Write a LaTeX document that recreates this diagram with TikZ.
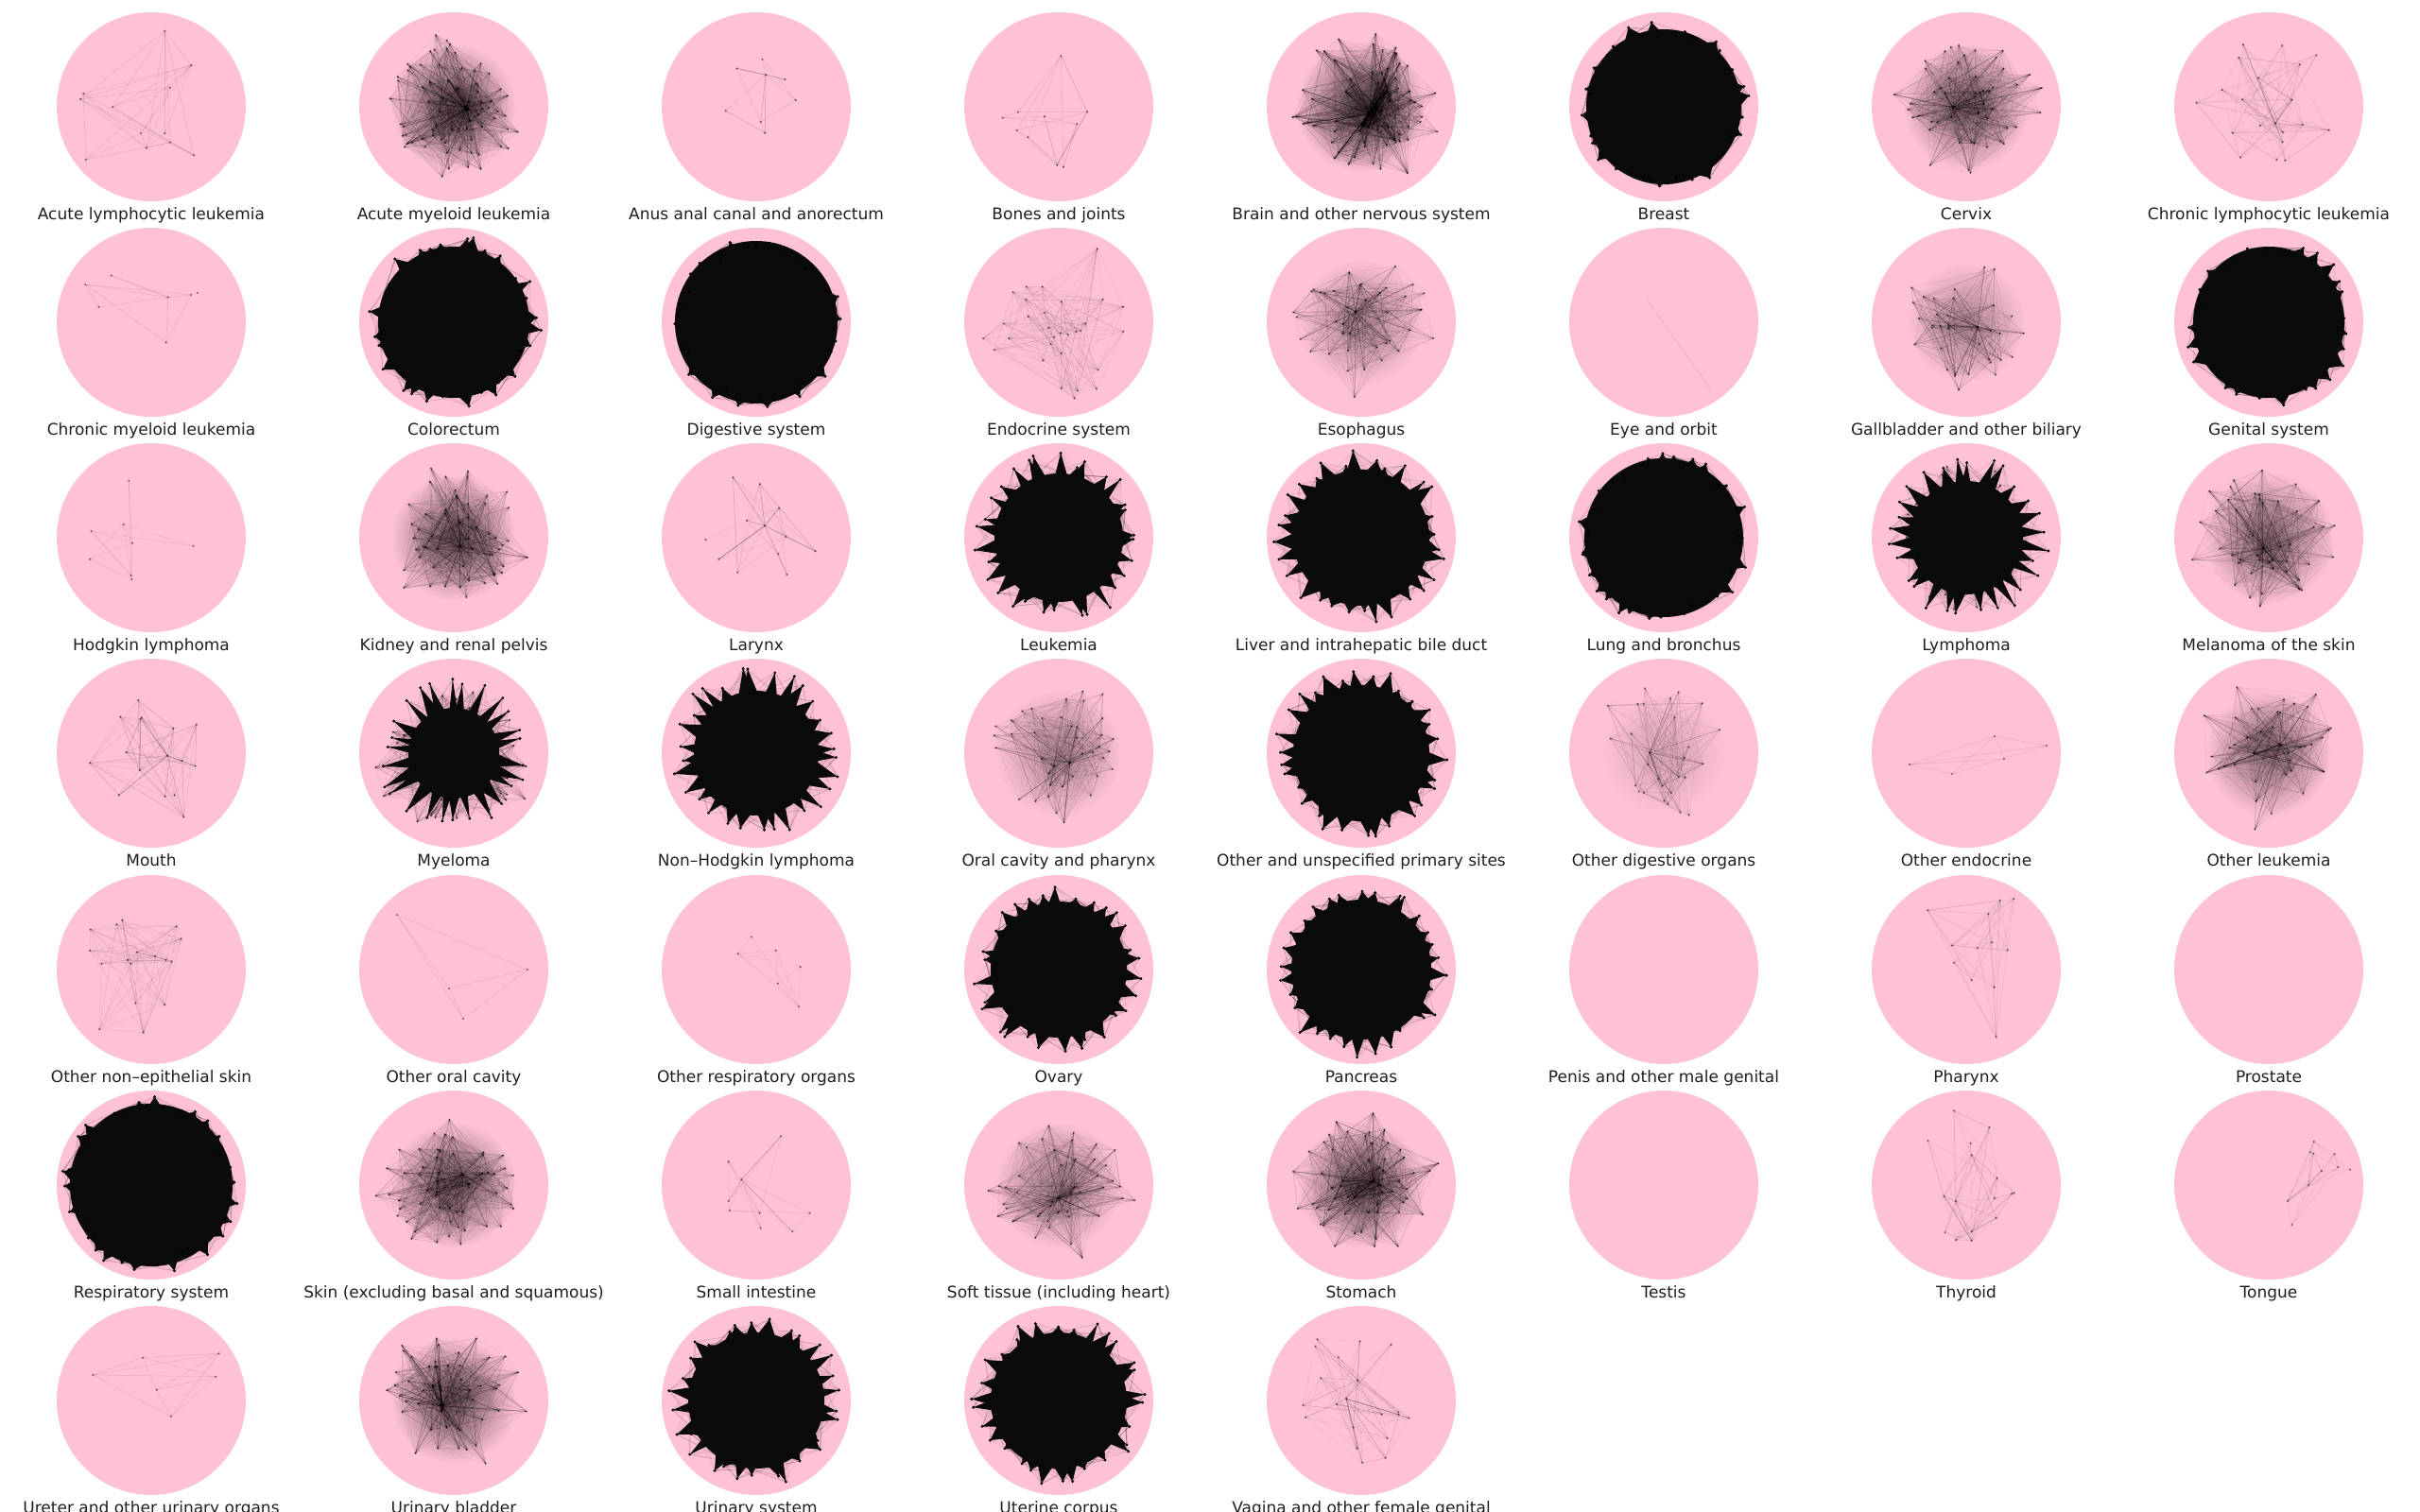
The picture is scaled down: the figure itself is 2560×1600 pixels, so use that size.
\documentclass[tikz,border=0pt]{standalone}
\usepackage{fontspec}
\setmainfont{DejaVu Sans}
\definecolor{pinkc}{RGB}{254,193,214}
\tikzset{
  pinkdisc/.style={circle, fill=pinkc, minimum size=200pt, inner sep=0pt, draw=none},
  celllabel/.style={font=\fontsize{17}{20}\selectfont, text=black!88, anchor=base, inner sep=0pt},
  netedges/.style={line width=0.5pt, draw=black},
  netdot/.style={fill=black, fill opacity=0.5},
}
% one connector between two named coordinates (low level, to save memory)
\newcommand\edgeln[2]{\pgfpathmoveto{\pgfpointanchor{#1}{center}}\pgfpathlineto{\pgfpointanchor{#2}{center}}\pgfusepath{stroke}}
% random network: id, cx, cy, n, m, opacity, spread, seed, mass
\newcommand\rnet[9]{%
  \pgfmathsetseed{#8}%
  \begin{scope}[shift={(#2,#3)}]
    \ifdim #9pt>0pt
      \pgfmathsetmacro\mrad{#7*78}%
      \shade[inner color=black, outer color=pinkc, opacity=#9] (0,0) circle (\mrad pt);
    \fi
    \foreach \i in {1,...,#4}{%
      \pgfmathsetmacro\nang{rnd*360}%
      \pgfmathsetmacro\nrad{#7*100*(0.12+0.88*(\i/#4)^0.7)*(0.75+0.25*rnd)}%
      \coordinate (#1-\i) at (\nang:\nrad);
    }
    \begin{scope}[netedges, draw opacity=#6]
      \foreach \k in {1,...,#5}{%
        \pgfmathtruncatemacro\ea{min(#4,1+floor(#4*rnd^2.2))}%
        \pgfmathtruncatemacro\eb{min(#4,1+floor(#4*rnd))}%
        \edgeln{#1-\ea}{#1-\eb}%
      }
    \end{scope}
    \foreach \i in {1,...,#4}{\fill[netdot] (#1-\i) circle (1.2pt);}
  \end{scope}}
% explicit network: id, cx, cy, coords x/y, prob, opacity, seed
\newcommand\xnet[7]{%
  \pgfmathsetseed{#7}%
  \begin{scope}[shift={(#2,#3)}]
    \foreach \px/\py [count=\i] in {#4}{\coordinate (#1-\i) at (\px,\py); \xdef\xnetn{\i}}
    \begin{scope}[netedges, draw opacity=#6]
      \foreach \i in {1,...,\xnetn}{%
        \foreach \j in {\i,...,\xnetn}{%
          \pgfmathsetmacro\xr{rnd}%
          \ifdim\xr pt<#5pt\relax\ifnum\i<\j\relax \edgeln{#1-\i}{#1-\j}\fi\fi
        }}
    \end{scope}
    \foreach \i in {1,...,\xnetn}{\fill[netdot] (#1-\i) circle (1.2pt);}
  \end{scope}}
% dense core: id, cx, cy, inner, outer, spikes, seed
\newcommand\core[7]{%
  \pgfmathsetseed{#7}%
  \begin{scope}[shift={(#2,#3)}]
    \foreach \s in {1,...,#6}{%
      \pgfmathsetmacro\cang{\s*360/#6+10*rnd}%
      \expandafter\xdef\csname #1ang\s\endcsname{\cang}%
      \pgfmathsetmacro\crad{#5*(0.82+0.18*rnd)}%
      \coordinate (#1-\s) at (\cang:\crad);
      \begin{scope}[netedges, draw opacity=0.1]
        \foreach \f in {1,...,9}{%
          \pgfmathsetmacro\fa{-\cang+70*(rnd-0.5)}%
          \pgfpathmoveto{\pgfpointanchor{#1-\s}{center}}%
          \pgfpathlineto{\pgfpointpolar{\fa}{#4 pt}}%
          \pgfusepath{stroke}%
        }
      \end{scope}
    }
    \fill[black!96] (0,0) circle (#4pt);
    \pgfmathsetmacro\cw{180/#6}%
    \foreach \s in {1,...,#6}{%
      \edef\cang{\csname #1ang\s\endcsname}%
      \pgfmathsetmacro\cwa{\cw*(0.6+0.9*rnd)}%
      \pgfmathsetmacro\cwb{\cw*(0.6+0.9*rnd)}%
      \fill[black!96] ({\cang-\cwa}:{#4-3}) -- (#1-\s) -- ({\cang+\cwb}:{#4-3}) -- cycle;
    }
    \foreach \s in {1,...,#6}{\fill[black] (#1-\s) circle (1.6pt);}
  \end{scope}}
\newcommand\cell[4]{%
  \node[pinkdisc] (c#1) at (#2,#3) {};
  \node[celllabel] (t#1) at (#2,#3+119) {#4};}
\begin{document}
\begin{tikzpicture}[x=1pt,y=-1pt]
\useasboundingbox[fill=white] (0,0) rectangle (2560,1600);
% ---- row 1
\cell{1}{160}{113}{Acute lymphocytic leukemia}
\xnet{n1}{160}{113}{14.3/-80.3,42.3/-44,20/-20.3,-71.7/-14,-75/-8,-41/0.3,-11/28,14.3/28,20/37.7,-5/43.7,-69.3/56,45/51.3}{0.5}{0.1}{101}
\cell{2}{480}{113}{Acute myeloid leukemia}
\rnet{n2}{480}{113}{75}{1200}{0.08}{0.85}{102}{0.55}
\cell{3}{800}{113}{Anus anal canal and anorectum}
\rnet{n3}{815}{98}{8}{20}{0.1}{0.6}{103}{0}
\cell{4}{1120}{113}{Bones and joints}
\rnet{n4}{1120}{113}{10}{28}{0.1}{0.8}{104}{0}
\cell{5}{1440}{113}{Brain and other nervous system}
\rnet{n5}{1440}{113}{75}{1500}{0.09}{0.88}{105}{0.65}
\cell{6}{1760}{113}{Breast}
\core{n6}{1760}{113}{82}{92}{30}{106}
\cell{7}{2080}{113}{Cervix}
\rnet{n7}{2080}{113}{50}{800}{0.08}{0.85}{107}{0.5}
\cell{8}{2400}{113}{Chronic lymphocytic leukemia}
\rnet{n8}{2400}{113}{20}{120}{0.08}{0.85}{108}{0}
% ---- row 2
\cell{9}{160}{341}{Chronic myeloid leukemia}
\rnet{n9}{160}{330}{7}{16}{0.1}{0.8}{109}{0}
\cell{10}{480}{341}{Colorectum}
\core{n10}{480}{341}{80}{93}{32}{110}
\cell{11}{800}{341}{Digestive system}
\core{n11}{800}{341}{86}{93}{34}{111}
\cell{12}{1120}{341}{Endocrine system}
\xnet{n12}{1120}{341}{40.7/-77.8,-48.3/-31.8,-34.3/-37.5,-17.3/-37.5,-35/-24.2,2.7/-21.8,46.7/-24.2,68.3/-16.2,-15/-10.2,-32.3/-6.2,-58.3/1.5,28.3/1.5,-10.7/5.8,1.7/11.5,10/13.2,18.3/9.8,23.3/9.2,68.3/9.8,-80/17.2,-52.7/17.2,-5/15.8,-8.3/23.2,-68.3/29.2,2.7/33.2,-16.7/40.5,41.7/50.5,2.7/69.8,20/72.5,40/70.5,16.7/80.5}{0.4}{0.08}{112}
\cell{13}{1440}{341}{Esophagus}
\rnet{n13}{1440}{341}{40}{550}{0.08}{0.85}{113}{0.3}
\cell{14}{1760}{341}{Eye and orbit}
\coordinate (n14-1) at (1743,318);
\coordinate (n14-2) at (1809,411);
\draw[netedges, draw opacity=0.12] (n14-1) -- (n14-2);
\cell{15}{2080}{341}{Gallbladder and other biliary}
\rnet{n15}{2080}{341}{35}{420}{0.08}{0.8}{115}{0.3}
\cell{16}{2400}{341}{Genital system}
\core{n16}{2400}{341}{80}{92}{30}{116}
% ---- row 3
\cell{17}{160}{569}{Hodgkin lymphoma}
\rnet{n17}{160}{569}{8}{18}{0.09}{0.85}{117}{0}
\cell{18}{480}{569}{Kidney and renal pelvis}
\rnet{n18}{480}{569}{55}{900}{0.08}{0.85}{118}{0.55}
\cell{19}{800}{569}{Larynx}
\rnet{n19}{800}{569}{12}{50}{0.09}{0.7}{119}{0}
\cell{20}{1120}{569}{Leukemia}
\core{n20}{1120}{569}{68}{92}{30}{120}
\cell{21}{1440}{569}{Liver and intrahepatic bile duct}
\core{n21}{1440}{569}{72}{93}{30}{121}
\cell{22}{1760}{569}{Lung and bronchus}
\core{n22}{1760}{569}{84}{93}{34}{122}
\cell{23}{2080}{569}{Lymphoma}
\rnet{n23b}{2080}{569}{50}{700}{0.08}{0.9}{223}{0}
\core{n23}{2080}{569}{60}{90}{28}{123}
\cell{24}{2400}{569}{Melanoma of the skin}
\rnet{n24}{2400}{569}{45}{750}{0.08}{0.88}{124}{0.45}
% ---- row 4
\cell{25}{160}{797}{Mouth}
\rnet{n25}{160}{797}{16}{100}{0.09}{0.78}{125}{0}
\cell{26}{480}{797}{Myeloma}
\rnet{n26b}{480}{797}{60}{1000}{0.09}{0.9}{226}{0}
\core{n26}{480}{797}{48}{82}{26}{126}
\cell{27}{800}{797}{Non–Hodgkin lymphoma}
\core{n27}{800}{797}{66}{92}{30}{127}
\cell{28}{1120}{797}{Oral cavity and pharynx}
\rnet{n28}{1120}{797}{40}{480}{0.08}{0.85}{128}{0.3}
\cell{29}{1440}{797}{Other and unspecified primary sites}
\core{n29}{1440}{797}{72}{92}{30}{129}
\cell{30}{1760}{797}{Other digestive organs}
\rnet{n30}{1760}{797}{28}{250}{0.07}{0.82}{130}{0.15}
\cell{31}{2080}{797}{Other endocrine}
\xnet{n31}{2080}{797}{-60/12,85/-8,30/-18,-15/22,40/6}{0.8}{0.1}{131}
\cell{32}{2400}{797}{Other leukemia}
\rnet{n32}{2400}{797}{40}{600}{0.08}{0.85}{132}{0.45}
% ---- row 5
\cell{33}{160}{1026}{Other non–epithelial skin}
\xnet{n33}{160}{1026}{-64.3/-42.5,-36.7/-47.8,-30.7/-52.5,26.7/-45.8,31.7/-32.5,-65/-20.2,-15/-18.5,4.3/-14.2,15.7/-10.2,21.7/-8.5,-52.7/-6.2,-25/-10.2,-21.7/-6.2,-16.7/35.5,14.3/37.2,-55/63.2,-8.3/66.5}{0.6}{0.09}{133}
\cell{34}{480}{1026}{Other oral cavity}
\xnet{n34}{480}{1026}{-60/-58,78/0,-5/20,10/52}{1}{0.1}{134}
\cell{35}{800}{1026}{Other respiratory organs}
\xnet{n35}{800}{1026}{-5/-34.5,-19.3/-16.8,20.7/-20.2,46.7/-2.8,22.7/14.8,45/39.2}{0.8}{0.08}{135}
\cell{36}{1120}{1026}{Ovary}
\core{n36}{1120}{1026}{72}{93}{30}{136}
\cell{37}{1440}{1026}{Pancreas}
\core{n37}{1440}{1026}{74}{93}{30}{137}
\cell{38}{1760}{1026}{Penis and other male genital}
\cell{39}{2080}{1026}{Pharynx}
\xnet{n39}{2080}{1026}{-40.8/-62.8,35.8/-73.2,50.3/-74.8,23.4/-58.8,-15.1/-25.5,11.8/-22.8,27.1/-28.8,43.6/-20.5,-13.1/-7.2,5.6/11.2,29.6/18.8,31.6/71.2}{0.6}{0.09}{139}
\cell{40}{2400}{1026}{Prostate}
% ---- row 6
\cell{41}{160}{1254}{Respiratory system}
\core{n41}{160}{1254}{86}{95}{34}{141}
\cell{42}{480}{1254}{Skin (excluding basal and squamous)}
\rnet{n42}{480}{1254}{55}{950}{0.08}{0.85}{142}{0.5}
\cell{43}{800}{1254}{Small intestine}
\rnet{n43}{800}{1254}{9}{28}{0.09}{0.7}{143}{0}
\cell{44}{1120}{1254}{Soft tissue (including heart)}
\rnet{n44}{1120}{1254}{45}{650}{0.08}{0.85}{144}{0.35}
\cell{45}{1440}{1254}{Stomach}
\rnet{n45}{1440}{1254}{55}{950}{0.09}{0.85}{145}{0.55}
\cell{46}{1760}{1254}{Testis}
\cell{47}{2080}{1254}{Thyroid}
\rnet{n47}{2080}{1254}{16}{80}{0.08}{0.85}{147}{0}
\cell{48}{2400}{1254}{Tongue}
\rnet{n48}{2425}{1250}{10}{35}{0.08}{0.7}{148}{0}
% ---- row 7
\cell{49}{160}{1482}{Ureter and other urinary organs}
\xnet{n49}{160}{1482}{-61.7/-27,-9/-45.3,71.7/-49.7,68.3/-25.3,5.7/-11.3,21/17}{0.7}{0.1}{149}
\cell{50}{480}{1482}{Urinary bladder}
\rnet{n50}{480}{1482}{50}{900}{0.08}{0.85}{150}{0.55}
\cell{51}{800}{1482}{Urinary system}
\core{n51}{800}{1482}{72}{93}{30}{151}
\cell{52}{1120}{1482}{Uterine corpus}
\core{n52}{1120}{1482}{72}{93}{30}{152}
\cell{53}{1440}{1482}{Vagina and other female genital}
\rnet{n53}{1440}{1482}{20}{130}{0.07}{0.85}{153}{0}
\end{tikzpicture}
\end{document}
